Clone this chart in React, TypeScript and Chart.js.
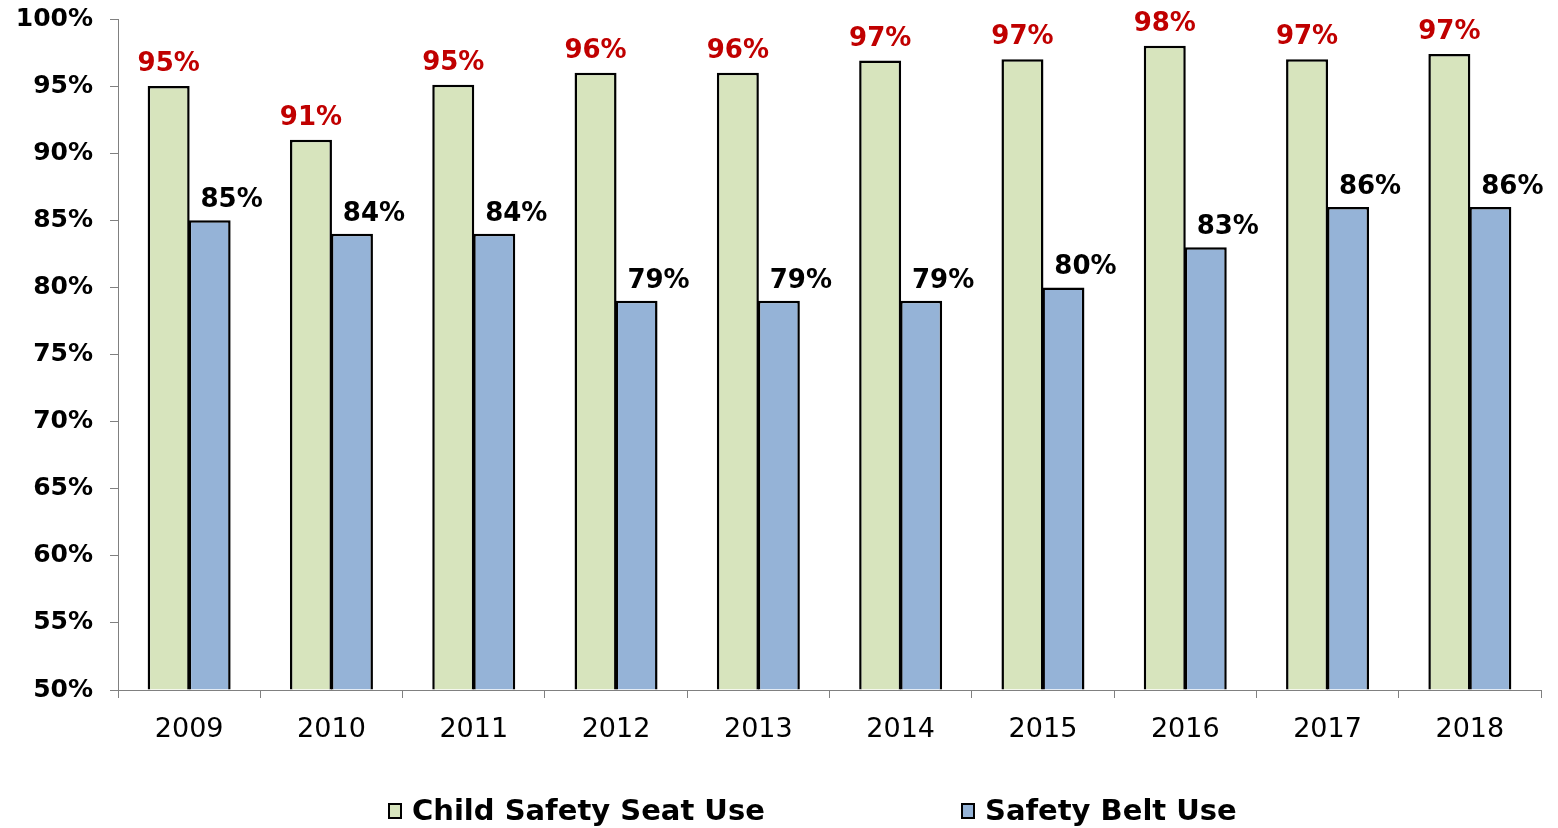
import React, { useEffect, useRef } from "react";
import { Chart, registerables } from "chart.js";

Chart.register(...registerables);

const years = ["2009", "2010", "2011", "2012", "2013", "2014", "2015", "2016", "2017", "2018"];
const childSeat = [95, 91, 95.1, 96, 96, 96.9, 97, 98, 97, 97.4];
const childSeatLabels = ["95%", "91%", "95%", "96%", "96%", "97%", "97%", "98%", "97%", "97%"];
const safetyBelt = [85, 84, 84, 79, 79, 79, 80, 83, 86, 86];
const safetyBeltLabels = ["85%", "84%", "84%", "79%", "79%", "79%", "80%", "83%", "86%", "86%"];
const seriesNames = ["Child Safety Seat Use", "Safety Belt Use"];

const FONT = "'DejaVu Sans', Verdana, sans-serif";

const labelPlugin = {
  id: "valueLabels",
  afterDatasetsDraw(chart: any) {
    const ctx = chart.ctx;
    ctx.save();
    ctx.font = `bold 26px ${FONT}`;
    ctx.textAlign = "center";
    ctx.textBaseline = "alphabetic";
    const m0 = chart.getDatasetMeta(0);
    m0.data.forEach((el: any, i: number) => {
      ctx.fillStyle = "#C00000";
      ctx.fillText(childSeatLabels[i], el.x, el.y - 15);
    });
    const m1 = chart.getDatasetMeta(1);
    m1.data.forEach((el: any, i: number) => {
      ctx.fillStyle = "#000000";
      ctx.fillText(safetyBeltLabels[i], el.x + 22, el.y - 13);
    });
    ctx.restore();
  },
};

const legendPlugin = {
  id: "customLegend",
  afterDraw(chart: any) {
    const ctx = chart.ctx;
    ctx.save();
    ctx.font = `bold 29px ${FONT}`;
    ctx.textBaseline = "middle";
    ctx.textAlign = "left";
    const starts = [389, 962];
    const y = 811;
    chart.data.datasets.forEach((ds: any, i: number) => {
      const x = starts[i];
      ctx.fillStyle = ds.backgroundColor;
      ctx.fillRect(x, y - 7, 12, 14);
      ctx.strokeStyle = "#000";
      ctx.lineWidth = 2;
      ctx.strokeRect(x, y - 7, 12, 14);
      ctx.fillStyle = "#000";
      ctx.fillText(ds.label, x + 23, y + 1);
    });
    ctx.restore();
  },
};

export default function App() {
  const ref = useRef<HTMLCanvasElement>(null);
  useEffect(() => {
    document.body.style.margin = "0";
    const chart = new Chart(ref.current as HTMLCanvasElement, {
      type: "bar",
      data: {
        labels: years,
        datasets: [
          {
            label: seriesNames[0],
            data: childSeat,
            backgroundColor: "#D7E4BD",
            borderColor: "#000000",
            borderWidth: 2.5,
            base: 50,
            categoryPercentage: 0.576,
            barPercentage: 1.025,
          },
          {
            label: seriesNames[1],
            data: safetyBelt,
            backgroundColor: "#95B3D7",
            borderColor: "#000000",
            borderWidth: 2.5,
            base: 50,
            categoryPercentage: 0.576,
            barPercentage: 1.025,
          },
        ],
      },
      options: {
        animation: false,
        responsive: false,
        maintainAspectRatio: false,
        layout: { padding: { top: 19, right: 17, bottom: 78, left: 0 } },
        plugins: {
          legend: { display: false },
          tooltip: { enabled: false },
        },
        scales: {
          x: {
            grid: { drawOnChartArea: false, drawTicks: true, tickLength: 8, color: "#808080", offset: true },
            border: { color: "#808080", width: 1 },
            ticks: { color: "#000", font: { family: FONT, size: 27 }, padding: 16 },
            afterFit: (s: any) => { s.height = 60; s.paddingLeft = 0; s.paddingRight = 0; },
          },
          y: {
            min: 50,
            max: 100,
            grid: { drawOnChartArea: false, drawTicks: true, tickLength: 8, color: "#808080" },
            border: { color: "#808080", width: 1 },
            ticks: {
              stepSize: 5,
              color: "#000",
              padding: 17,
              font: { family: FONT, size: 25, weight: "bold" },
              callback: (v: any) => v + "%",
            },
            afterFit: (s: any) => { s.width = 118; s.paddingTop = 0; s.paddingBottom = 0; },
          },
        },
      },
      plugins: [labelPlugin, legendPlugin],
    } as any);
    return () => chart.destroy();
  }, []);
  return (
    <div style={{ position: "fixed", left: 0, top: 0, width: 1558, height: 828 }}>
      <canvas ref={ref} width={1558} height={828} style={{ width: 1558, height: 828 }} />
    </div>
  );
}
